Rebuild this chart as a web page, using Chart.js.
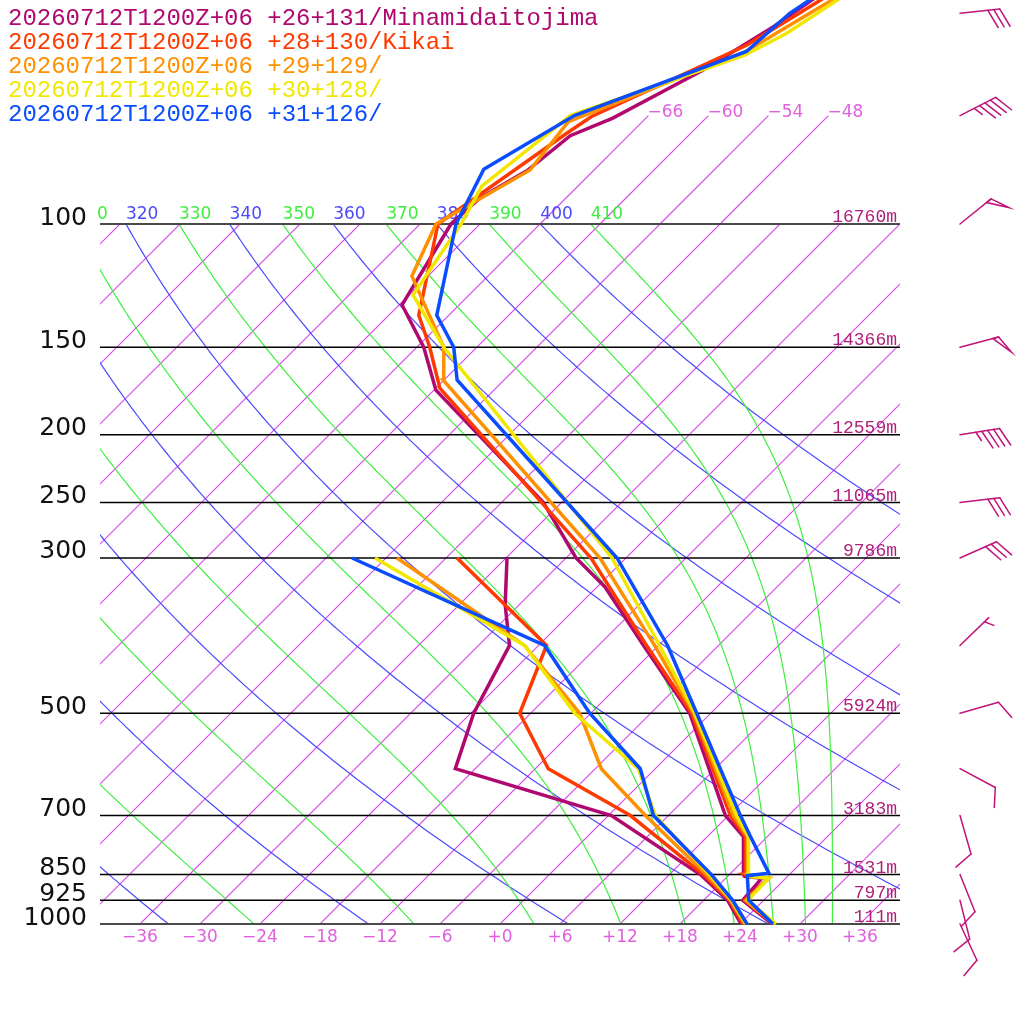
<!DOCTYPE html>
<html><head><meta charset="utf-8">
<script src="https://cdn.jsdelivr.net/npm/chart.js@4.4.1/dist/chart.umd.min.js"></script>
<style>html,body{margin:0;padding:0;background:#fff;overflow:hidden}canvas{display:block}</style>
</head><body>
<canvas id="c" width="1024" height="1024"></canvas>
<script>
// ---------------- DATA ----------------
const stationLabels = [
  '20260712T1200Z+06 +26+131/Minamidaitojima',
  '20260712T1200Z+06 +28+130/Kikai',
  '20260712T1200Z+06 +29+129/',
  '20260712T1200Z+06 +30+128/',
  '20260712T1200Z+06 +31+126/'
];
const stationColors = ['#b0086e', '#ff3a00', '#ff9000', '#f0e800', '#0a4cff'];

// Minamidaitojima
const minamiTempP = [1000, 925, 860, 855, 850, 750, 700, 500, 400, 330, 300, 250, 172.7, 150, 130.5, 100, 91.8, 83.7, 74.8, 70.6, 60.3, 52.3, 40];
const minamiTempT = [27.2, 21.9, 21.6, 19.7, 19.4, 15.6, 11.7, -2.1, -13.5, -23.2, -29.0, -37.8, -59.8, -65.3, -71.7, -74.9, -74.6, -72.6, -71.8, -69.3, -65.1, -62.4, -58.8];
const minamiDewP = [1000, 925, 850, 700, 600, 500, 400, 350, 300];
const minamiDewT = [24.1, 20.4, 15.1, 0.3, -20.0, -23.7, -26.9, -31.4, -35.9];

// Kikai
const kikaiTempP = [1000, 925, 860, 855, 850, 750, 700, 500, 400, 300, 171.6, 150, 135, 100, 74.2, 70.2, 55.5, 50.6, 40];
const kikaiTempT = [27.3, 22.1, 22.3, 20.2, 19.6, 15.8, 12.2, -1.9, -13.2, -27.5, -59.6, -64.7, -69.0, -76.2, -72.4, -71.6, -63.2, -61.4, -56.9];
const kikaiDewP = [1000, 925, 850, 700, 600, 500, 400, 300];
const kikaiDewT = [24.3, 20.6, 15.4, 2.2, -10.7, -19.1, -23.2, -40.9];

// +29+129
const p29TempP = [1000, 925, 860, 855, 850, 750, 700, 500, 400, 300, 167, 150, 118.7, 100, 83.7, 71.4, 56.8, 50, 40];
const p29TempT = [27.4, 22.2, 22.3, 20.2, 19.8, 16.0, 12.5, -1.7, -12.4, -26.6, -60.1, -63.3, -73.6, -76.4, -72.4, -73.4, -62.7, -60.1, -55.5];
const p29DewP = [1000, 925, 850, 700, 600, 500, 400, 300];
const p29DewT = [24.5, 20.7, 15.7, 3.7, -5.4, -13.1, -25.4, -46.9];

// +30+128
const p30TempP = [1000, 925, 860, 855, 850, 750, 700, 500, 400, 300, 150, 126.3, 100, 88.3, 70, 57.4, 53.4, 48.9, 40];
const p30TempT = [27.6, 22.4, 22.3, 20.2, 19.9, 16.1, 12.8, -1.6, -11.9, -25.4, -63.3, -71.6, -73.9, -75.6, -73.8, -62.4, -60.4, -59.0, -56.0];
const p30DewP = [1000, 925, 850, 700, 600, 500, 400, 300];
const p30DewT = [24.6, 20.8, 16.0, 4.7, -1.7, -13.6, -25.4, -49.1];

// +31+126
const p31TempP = [1000, 925, 853, 846, 750, 700, 600, 500, 400, 300, 167, 150, 135, 100, 83.5, 70, 56.7, 50, 40];
const p31TempT = [27.3, 22.5, 19.9, 21.8, 16.3, 13.2, 6.5, -1.4, -11.1, -24.9, -58.7, -62.3, -67.2, -74.4, -77.1, -73.4, -62.6, -62.1, -58.7];
const p31DewP = [1000, 925, 850, 700, 600, 500, 400, 300];
const p31DewT = [24.7, 20.9, 16.2, 4.5, -1.5, -12.1, -23.4, -51.4];

// Wind barbs (Minamidaitojima)
const barbP = [50, 70, 100, 150, 200, 250, 300, 400, 500, 600, 700, 850, 925, 1000];
const barbDir = [84, 63, 51, 75, 81, 83, 66, 46, 74, 118, 164, 158, 166, 155];
const barbSpeed = [30, 45, 50, 50, 45, 30, 30, 5, 10, 10, 10, 10, 10, 10];

// Axis furniture
const pressureLevels = [100, 150, 200, 250, 300, 500, 700, 850, 925, 1000];
const heightLabels = ['16760m', '14366m', '12559m', '11065m', '9786m', '5924m', '3183m', '1531m', '797m', '111m'];
const bottomTempTicks = [-36, -30, -24, -18, -12, -6, 0, 6, 12, 18, 24, 30, 36];
const topIsothermLabels = [-66, -60, -54, -48];
const dryThetas = [240, 260, 280, 300, 320, 340, 360, 380, 400];
const moistThetaEs = [250, 270, 290, 310, 330, 350, 370, 390, 410];

// ---------------- SETUP ----------------
const SKEW = 70; // isotherm skew: degrees per decade of pressure
const skx = (T, p) => T + SKEW * Math.log10(1000 / p);

const tempSets = [
  [minamiTempP, minamiTempT], [kikaiTempP, kikaiTempT], [p29TempP, p29TempT], [p30TempP, p30TempT], [p31TempP, p31TempT]
];
const dewSets = [
  [minamiDewP, minamiDewT], [kikaiDewP, kikaiDewT], [p29DewP, p29DewT], [p30DewP, p30DewT], [p31DewP, p31DewT]
];

const datasets = [];
[dewSets, tempSets].forEach(sets => {
  sets.forEach((s, i) => {
    datasets.push({
      label: stationLabels[i],
      data: s[0].map((p, k) => ({ x: skx(s[1][k], p), y: p })),
      borderColor: stationColors[i],
      backgroundColor: stationColors[i],
      borderWidth: 3.5,
      showLine: true,
      pointRadius: 0,
      fill: false,
      tension: 0,
      order: 4 - i
    });
  });
});

function satThetaE(Tk, p) {
  const Tc = Tk - 273.15;
  const es = 6.112 * Math.exp(17.67 * Tc / (Tc + 243.5));
  const r = 622 * es / Math.max(p - es, 1e-3);
  const th = Tk * Math.pow(1000 / p, 0.2854 * (1 - 0.00028 * r));
  return th * Math.exp((3.376 / Tk - 0.00254) * r * (1 + 0.00081 * r));
}
function moistT(te, p) {
  let lo = 150, hi = 340;
  for (let i = 0; i < 50; i++) { const m = (lo + hi) / 2; if (satThetaE(m, p) > te) hi = m; else lo = m; }
  return (lo + hi) / 2 - 273.15;
}

const ISO_COLOR = 'rgb(218,72,236)', DRY = '#4a4aff', MOIST = '#3fee3f', TLAB = '#e060e0', HLAB = '#b0207a';

const skewPlugin = {
  id: 'skewT',
  beforeDatasetsDraw(chart) {
    const ctx = chart.ctx, xs = chart.scales.x, ys = chart.scales.y;
    const X = (T, p) => xs.getPixelForValue(skx(T, p));
    const Y = p => ys.getPixelForValue(p);
    const left = xs.getPixelForValue(-40), right = xs.getPixelForValue(40);
    const top = Y(100), bottom = Y(1000);
    const N = 120, pAt = i => 1000 * Math.pow(10, -i / N);

    ctx.save();
    ctx.setLineDash([]);
    ctx.globalAlpha = 1;
    ctx.beginPath(); ctx.rect(left, top, right - left, bottom - top); ctx.clip();
    ctx.lineWidth = 1.1;
    for (let T = -108; T <= 36; T += 6) {
      ctx.beginPath();
      ctx.strokeStyle = ISO_COLOR;
      ctx.moveTo(X(T, 1000), Y(1000)); ctx.lineTo(X(T, 100), Y(100));
      ctx.stroke();
    }
    ctx.lineWidth = 1.2;
    dryThetas.forEach(th => {
      ctx.beginPath(); ctx.strokeStyle = DRY;
      for (let i = 0; i <= N; i++) {
        const p = pAt(i), T = th * Math.pow(p / 1000, 0.2857) - 273.15;
        i ? ctx.lineTo(X(T, p), Y(p)) : ctx.moveTo(X(T, p), Y(p));
      }
      ctx.stroke();
    });
    moistThetaEs.forEach(te => {
      ctx.beginPath(); ctx.strokeStyle = MOIST;
      for (let i = 0; i <= N; i++) {
        const p = pAt(i), T = moistT(te, p);
        i ? ctx.lineTo(X(T, p), Y(p)) : ctx.moveTo(X(T, p), Y(p));
      }
      ctx.stroke();
    });
    ctx.restore();

    // isotherm extensions above 100 hPa with labels
    ctx.save();
    ctx.lineWidth = 1.1;
    ctx.font = '17px "DejaVu Sans"'; ctx.fillStyle = TLAB; ctx.textAlign = 'left'; ctx.textBaseline = 'alphabetic';
    topIsothermLabels.forEach(T => {
      ctx.beginPath(); ctx.strokeStyle = ISO_COLOR;
      ctx.moveTo(X(T, 100), Y(100)); ctx.lineTo(X(T, 70), Y(70)); ctx.stroke();
      ctx.fillText('\u2212' + Math.abs(T), X(T, 70) - 1, Y(70) + 1);
    });
    ctx.restore();

    // theta labels along the 100 hPa line
    ctx.save();
    ctx.beginPath(); ctx.rect(96, 0, right - 96, 1024); ctx.clip();
    ctx.font = '17px "DejaVu Sans"'; ctx.textAlign = 'left';
    dryThetas.forEach(th => {
      const T = th * Math.pow(0.1, 0.2857) - 273.15;
      ctx.fillStyle = DRY; ctx.fillText(String(th), X(T, 100), Y(100) - 5.5);
    });
    moistThetaEs.forEach(te => {
      const T = moistT(te, 100);
      ctx.fillStyle = MOIST; ctx.fillText(String(te), X(T, 100), Y(100) - 5.5);
    });
    ctx.restore();

    // isobars and labels
    ctx.save();
    pressureLevels.forEach((p, i) => {
      const y = Y(p);
      ctx.strokeStyle = (p === 100 || p === 1000) ? '#4a4a4a' : '#000';
      ctx.lineWidth = (p === 100 || p === 1000) ? 2 : 1.5;
      ctx.beginPath(); ctx.moveTo(left, y); ctx.lineTo(right, y); ctx.stroke();
      ctx.fillStyle = '#111'; ctx.font = '25px "DejaVu Sans"'; ctx.textAlign = 'right';
      ctx.fillText(String(p), 87, y + 0.5);
      ctx.fillStyle = HLAB; ctx.font = '18px "Liberation Mono"'; ctx.textAlign = 'right';
      ctx.fillText(heightLabels[i], right - 3, y - 2);
    });
    ctx.fillStyle = TLAB; ctx.font = '17px "DejaVu Sans"'; ctx.textAlign = 'center';
    bottomTempTicks.forEach(T => {
      const txt = T < 0 ? '\u2212' + Math.abs(T) : '+' + T;
      ctx.fillText(txt, X(T, 1000), 942);
    });
    ctx.restore();
  },
  afterDraw(chart) {
    const ctx = chart.ctx, ys = chart.scales.y;
    ctx.save();
    ctx.font = '24px "Liberation Mono"'; ctx.textAlign = 'left'; ctx.textBaseline = 'alphabetic';
    stationLabels.forEach((s, i) => { ctx.fillStyle = stationColors[i]; ctx.fillText(s, 8, 25 + 24 * i); });
    // wind barbs
    ctx.strokeStyle = '#c0147a'; ctx.fillStyle = '#c0147a'; ctx.lineWidth = 1.5; ctx.lineCap = 'round';
    barbP.forEach((p, k) => {
      const bx = 960, by = ys.getPixelForValue(p);
      const rad = barbDir[k] * Math.PI / 180, L = 40;
      const ux = Math.sin(rad), uy = -Math.cos(rad);
      const th = 65 * Math.PI / 180;
      const fx = ux * Math.cos(th) - uy * Math.sin(th), fy = ux * Math.sin(th) + uy * Math.cos(th);
      const tx = bx + ux * L, ty = by + uy * L;
      ctx.beginPath(); ctx.moveTo(bx, by); ctx.lineTo(tx, ty); ctx.stroke();
      let s = Math.round(barbSpeed[k] / 5) * 5;
      const n50 = Math.floor(s / 50); s -= n50 * 50;
      const n10 = Math.floor(s / 10); s -= n10 * 10;
      const n5 = s >= 5 ? 1 : 0;
      let pos = 0;
      for (let j = 0; j < n50; j++) {
        const px = tx - ux * pos, py = ty - uy * pos;
        ctx.beginPath(); ctx.moveTo(px, py); ctx.lineTo(px + fx * 20, py + fy * 20);
        ctx.lineTo(px - ux * 6, py - uy * 6); ctx.closePath(); ctx.stroke();
        pos += 8;
      }
      for (let j = 0; j < n10; j++) {
        const px = tx - ux * pos, py = ty - uy * pos;
        ctx.beginPath(); ctx.moveTo(px, py); ctx.lineTo(px + fx * 20, py + fy * 20); ctx.stroke();
        pos += 6;
      }
      if (n5) {
        if (pos === 0) pos = 6;
        const px = tx - ux * pos, py = ty - uy * pos;
        ctx.beginPath(); ctx.moveTo(px, py); ctx.lineTo(px + fx * 10, py + fy * 10); ctx.stroke();
      }
    });
    ctx.restore();
  }
};

new Chart(document.getElementById('c'), {
  type: 'scatter',
  data: { datasets },
  options: {
    responsive: false,
    devicePixelRatio: 1,
    animation: false,
    events: [],
    layout: { padding: 0 },
    plugins: { legend: { display: false }, tooltip: { enabled: false } },
    scales: {
      x: { type: 'linear', display: false, min: -50, max: 52.4, bounds: 'data' },
      y: { type: 'logarithmic', display: false, reverse: true, min: 1000 / Math.pow(10, 924 / 700), max: 1000 * Math.pow(10, 100 / 700), bounds: 'data' }
    }
  },
  plugins: [skewPlugin]
});
</script>
</body></html>
